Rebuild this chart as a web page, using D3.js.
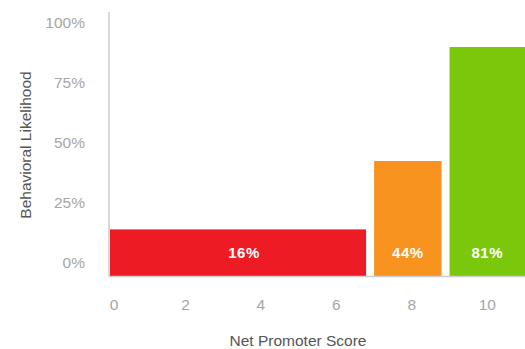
<!DOCTYPE html>
<html>
<head>
<meta charset="utf-8">
<script src="https://cdn.jsdelivr.net/npm/d3@7"></script>
<style>
  body { margin: 0; background: #fff; }
  text { font-family: "Liberation Sans", Arial, sans-serif; }
</style>
</head>
<body>
<script>
const w = 525
const h = 349

// bars: score band start / end, bar height, printed label
const groups = ['Detractors', 'Passives', 'Promoters']
const bandStart = [0, 7, 9]
const bandEnd = [7, 9, 11]
const barValues = [0.14, 0.425, 0.90]
const barLabels = ['16%', '44%', '81%']
const barColors = ['#ed1c24', '#f7931e', '#7ac70c']

const xTicks = [0, 2, 4, 6, 8, 10]
const yTicks = [0, 0.25, 0.5, 0.75, 1]

const left = 110
const bottom = 276
const gap = 8

const x = d3.scaleLinear()
    .domain([0, 11])
    .range([left, w])

const y = d3.scaleLinear()
    .domain([0, 1])
    .range([263, 23])

const svg = d3.select('body').append('svg')
    .attr('width', w)
    .attr('height', h)

function barEnd(i) {
    return x(bandEnd[i]) - (i < groups.length - 1 ? gap : 0)
}

// bars
const bars = svg.selectAll('g.bar')
    .data(groups)
    .enter()
    .append('g')
    .attr('class', 'bar')

bars.append('rect')
    .attr('x', function (d, i) { return x(bandStart[i]) })
    .attr('width', function (d, i) { return barEnd(i) - x(bandStart[i]) })
    .attr('y', function (d, i) { return y(barValues[i]) })
    .attr('height', function (d, i) { return bottom - y(barValues[i]) })
    .style('fill', function (d, i) { return barColors[i] })

bars.append('text')
    .attr('x', function (d, i) { return (x(bandStart[i]) + barEnd(i)) / 2 + (i === 0 ? 6 : 0) })
    .attr('y', 258)
    .attr('text-anchor', 'middle')
    .style('fill', '#fff')
    .style('font-weight', 'bold')
    .style('font-size', '15px')
    .style('letter-spacing', '0.5px')
    .text(function (d, i) { return barLabels[i] })

// axis lines
svg.append('line')
    .attr('x1', left - 1).attr('x2', left - 1)
    .attr('y1', 12).attr('y2', bottom + 1)
    .style('stroke', '#cccccc')
    .style('stroke-width', 1.5)

svg.append('line')
    .attr('x1', left - 1).attr('x2', w)
    .attr('y1', bottom + 0.5).attr('y2', bottom + 0.5)
    .style('stroke', '#cccccc')
    .style('stroke-width', 1.5)

// y tick labels
svg.selectAll('text.ytick')
    .data(yTicks)
    .enter()
    .append('text')
    .attr('class', 'ytick')
    .attr('x', 85)
    .attr('y', function (d) { return y(d) + 5 })
    .attr('text-anchor', 'end')
    .style('fill', '#a6a6a6')
    .style('font-size', '15.5px')
    .text(function (d) { return d3.format('.0%')(d) })

// x tick labels
svg.selectAll('text.xtick')
    .data(xTicks)
    .enter()
    .append('text')
    .attr('class', 'xtick')
    .attr('x', function (d) { return d === 0 ? x(d) + 4 : x(d) })
    .attr('y', 310)
    .attr('text-anchor', 'middle')
    .style('fill', '#a6a6a6')
    .style('font-size', '15.5px')
    .text(function (d) { return d })

// titles
svg.append('text')
    .attr('x', 298)
    .attr('y', 346)
    .attr('text-anchor', 'middle')
    .style('fill', '#555')
    .style('font-size', '15.5px')
    .text('Net Promoter Score')

svg.append('text')
    .attr('transform', 'translate(31,145) rotate(-90)')
    .attr('text-anchor', 'middle')
    .style('fill', '#555')
    .style('font-size', '15.5px')
    .text('Behavioral Likelihood')
</script>
</body>
</html>
